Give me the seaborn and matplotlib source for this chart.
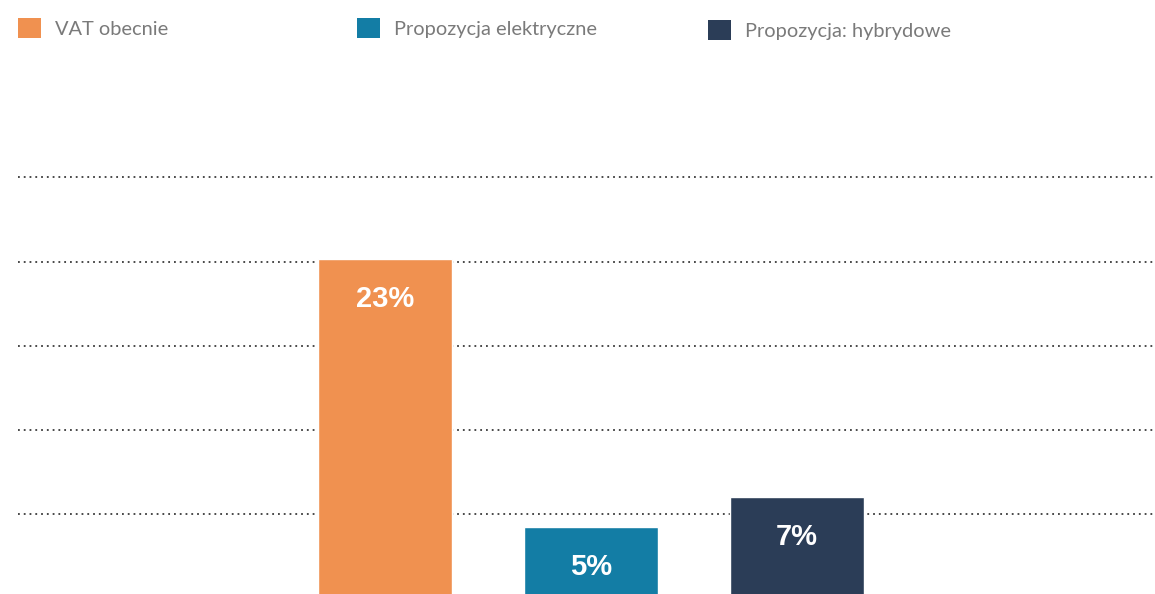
import matplotlib
matplotlib.use("Agg")
import matplotlib.pyplot as plt
import seaborn as sns
import pandas as pd

categories = ["VAT obecnie", "Propozycja elektryczne", "Propozycja: hybrydowe"]
values = [23, 5, 7]
value_labels = ["23%", "5%", "7%"]
colors = ["#F09150", "#137DA5", "#2B3D57"]
grid_levels = [5.87, 11.51, 17.15, 22.79, 28.5]

df = pd.DataFrame({"cat": categories, "val": values})

sns.set_theme(style="white")
plt.rcParams["font.family"] = ["Lato", "DejaVu Sans"]

W, H, DPI = 1155, 594, 100
fig = plt.figure(figsize=(W / DPI, H / DPI), dpi=DPI)
ax = fig.add_axes([18 / W, 0, 1 - 18 / W, 1 - 150 / H])

sns.barplot(data=df, x="cat", y="val", hue="cat", palette=colors,
            width=0.652, saturation=1, dodge=False, legend=False, ax=ax)

ax.set_xlim(-1.785, 3.74)
ax.set_ylim(0.5, 30.32)
ax.set_yticks(grid_levels)
ax.set_axisbelow(True)
ax.yaxis.grid(True, color="#3A3A3A", linewidth=1.3, linestyle=(0, (1, 2.2)))
ax.xaxis.grid(False)
ax.set_xticks([])
ax.tick_params(left=False, labelleft=False)
ax.set_xlabel("")
ax.set_ylabel("")
for s in ax.spines.values():
    s.set_visible(False)

for i, (v, lab) in enumerate(zip(values, value_labels)):
    ax.annotate(lab, xy=(i, v), xytext=(0, -29), textcoords="offset points",
                ha="center", va="center", color="white", fontsize=21,
                fontweight="bold", family=["Liberation Sans", "DejaVu Sans"])

# legend: one entry per position
from matplotlib.patches import Patch
legend_x = [18, 357, 708]
legend_y = [18, 18, 20]
for cat, col, lx, ly in zip(categories, colors, legend_x, legend_y):
    leg = fig.legend([Patch(facecolor=col, edgecolor="none")], [cat],
                     loc="upper left", bbox_to_anchor=(lx / W, 1 - ly / H),
                     frameon=False, fontsize=14.4, handlelength=1.15,
                     handleheight=1.15, handletextpad=0.7, borderpad=0,
                     borderaxespad=0)
    for t in leg.get_texts():
        t.set_color("#7A7A7A")

fig.savefig("out.png", dpi=DPI, facecolor="white")
